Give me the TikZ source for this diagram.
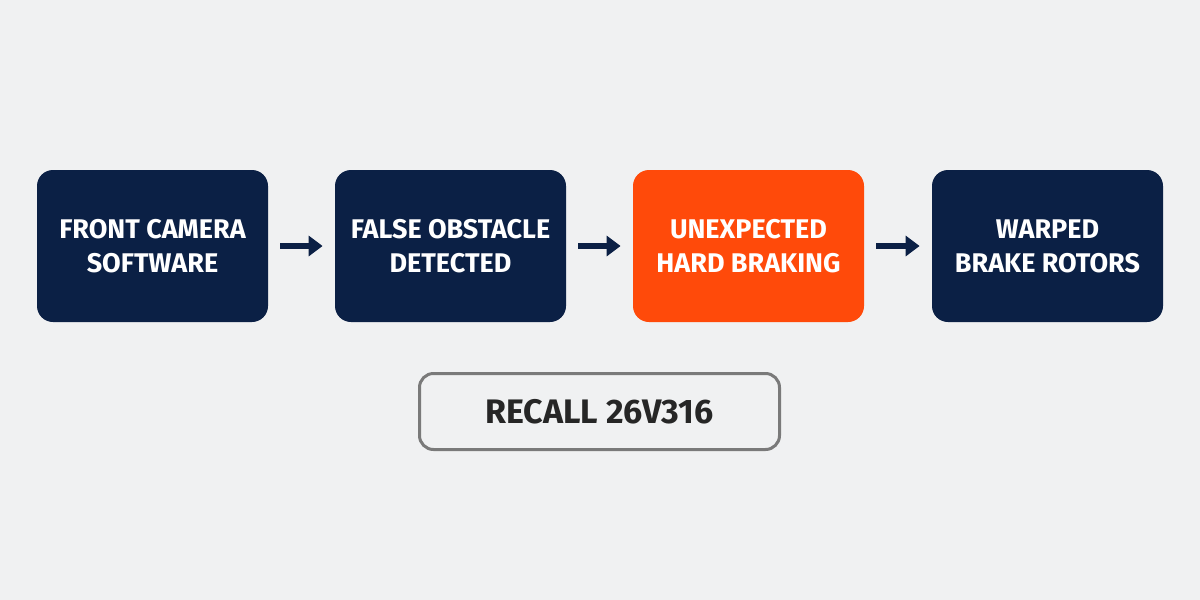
\documentclass[tikz,border=0pt]{standalone}
\usepackage{fontspec}
\setmainfont{Fira Sans}
\usetikzlibrary{arrows.meta}
\definecolor{bg}{HTML}{F0F1F2}
\definecolor{navy}{HTML}{0B2045}
\definecolor{orng}{HTML}{FF4A0A}
\definecolor{gborder}{HTML}{7A7A7A}
\begin{document}
\begin{tikzpicture}[x=0.5pt,y=-0.5pt,
  stage/.style={rounded corners=8pt,minimum width=115.5pt,minimum height=76pt,inner sep=0pt,
    text=white,font=\fontsize{13.5}{17}\selectfont\bfseries,align=center},
  arr/.style={navy,line width=3pt,-{Triangle[length=7pt,width=10pt]}}]
\fill[bg] (0,0) rectangle (1200,600);
\useasboundingbox (0,0) rectangle (1200,600);
\node[stage,fill=navy] (a) at (152.5,246) {FRONT CAMERA\\SOFTWARE};
\node[stage,fill=navy] (b) at (450.5,246) {FALSE OBSTACLE\\DETECTED};
\node[stage,fill=orng] (c) at (748.5,246) {UNEXPECTED\\HARD BRAKING};
\node[stage,fill=navy] (d) at (1047.5,246) {WARPED\\BRAKE ROTORS};
\draw[arr] ([xshift=6pt]a.east) -- ([xshift=-6pt]b.west);
\draw[arr] ([xshift=6pt]b.east) -- ([xshift=-6pt]c.west);
\draw[arr] ([xshift=6pt]c.east) -- ([xshift=-6pt]d.west);
\node[draw=gborder,line width=1.5pt,rounded corners=7pt,fill=bg,minimum width=180pt,minimum height=38pt,
  text=black!85,font=\fontsize{17}{20}\selectfont\bfseries] (r) at (599.5,411.5) {RECALL 26V316};
\end{tikzpicture}
\end{document}
